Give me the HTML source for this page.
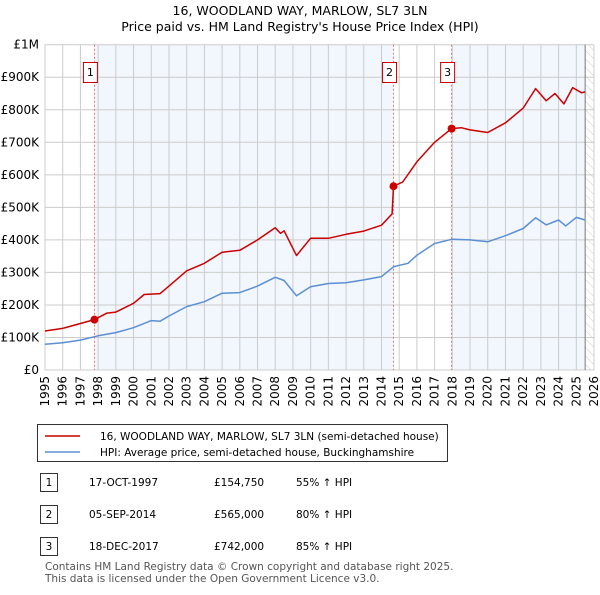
<!DOCTYPE html>
<html><head><meta charset="utf-8"><style>
body{margin:0;background:#fff;font-family:"Liberation Sans","DejaVu Sans",sans-serif;}
svg text{font-family:"DejaVu Sans","Liberation Sans",sans-serif;}
</style></head><body>
<svg id="c" width="600" height="590" xmlns="http://www.w3.org/2000/svg">
<defs><pattern id="hatch" width="6" height="6" patternUnits="userSpaceOnUse" patternTransform="rotate(-45)"><line x1="0" y1="0" x2="0" y2="6" stroke="#ccc" stroke-width="1"/></pattern></defs>
<text x="300" y="15" text-anchor="middle" font-size="12.5">16, WOODLAND WAY, MARLOW, SL7 3LN</text>
<text x="300" y="31" text-anchor="middle" font-size="12.5">Price paid vs. HM Land Registry's House Price Index (HPI)</text>
<g id="plot"></g>
<g>
<rect x="37.5" y="424.5" width="410" height="37" fill="#fff" stroke="#333"/>
<line x1="45" y1="436" x2="80" y2="436" stroke="#cc0000" stroke-width="1.5"/>
<text x="100" y="440" font-size="10.5">16, WOODLAND WAY, MARLOW, SL7 3LN (semi-detached house)</text>
<line x1="45" y1="452" x2="80" y2="452" stroke="#5b8fd4" stroke-width="1.5"/>
<text x="100" y="456" font-size="10.5">HPI: Average price, semi-detached house, Buckinghamshire</text>
</g>
<g id="tbl" font-size="10.5"></g>
<text x="45" y="570" font-size="10.5" fill="#555">Contains HM Land Registry data © Crown copyright and database right 2025.</text>
<text x="45" y="582" font-size="10.5" fill="#555">This data is licensed under the Open Government Licence v3.0.</text>
</svg>
<script>
const hpiYears=[1995,1996,1997,1998,1999,2000,2001,2001.5,2002,2003,2004,2005,2006,2007,2008,2008.5,2009.2,2010,2011,2012,2013,2014,2014.7,2015.5,2016,2017,2018,2019,2020,2021,2022,2022.7,2023.3,2024,2024.4,2025,2025.5];
const hpiValues=[79,84,92,105,115,130,152,150,166,195,210,236,238,258,285,275,228,256,266,268,277,287,318,328,353,389,402,400,394,413,435,468,446,461,443,469,461];
const priceYears=[1995,1996,1997,1997.79,1998.5,1999,2000,2000.6,2001.5,2002,2003,2004,2005,2006,2007,2008,2008.3,2008.5,2009.2,2010,2011,2012,2013,2014,2014.6,2014.68,2015.2,2016,2017,2017.96,2018.5,2019,2020,2021,2022,2022.7,2023.3,2023.8,2024.3,2024.8,2025.3,2025.5];
const priceValues=[120,128,143,155,175,178,205,232,235,258,305,328,362,368,400,437,420,428,352,405,405,417,427,445,480,565,578,640,700,742,745,738,730,760,805,865,828,850,818,868,852,855];
const saleYears=[1997.79,2014.68,2017.96];
const saleValues=[154.75,565,742];
const saleLabels=["1","2","3"];
const saleDates=["17-OCT-1997","05-SEP-2014","18-DEC-2017"];
const salePrices=["£154,750","£565,000","£742,000"];
const saleHpi=["55% ↑ HPI","80% ↑ HPI","85% ↑ HPI"];
const yTicks=[0,100,200,300,400,500,600,700,800,900,1000];
const yTickLabels=["£0","£100K","£200K","£300K","£400K","£500K","£600K","£700K","£800K","£900K","£1M"];
const xTicks=[1995,1996,1997,1998,1999,2000,2001,2002,2003,2004,2005,2006,2007,2008,2009,2010,2011,2012,2013,2014,2015,2016,2017,2018,2019,2020,2021,2022,2023,2024,2025,2026];

const X0=45,X1=594,Y0=370,Y1=44.7;
const x=y=>X0+(y-1995)/(2026-1995)*(X1-X0);
const yv=v=>Y0-v/1000*(Y0-Y1);
const NS="http://www.w3.org/2000/svg";
const g=document.getElementById('plot');
function mk(t,a,p){const e=document.createElementNS(NS,t);for(const k in a)e.setAttribute(k,a[k]);(p||g).appendChild(e);return e;}
let r=mk('rect',{x:x(saleYears[0]),y:Y1,width:x(saleYears[1])-x(saleYears[0]),height:Y0-Y1,fill:'#f2f6fd'});

r=mk('rect',{x:x(saleYears[2]),y:Y1,width:x(2025.5)-x(saleYears[2]),height:Y0-Y1,fill:'#f2f6fd'});

r=mk('rect',{x:x(2025.5),y:Y1,width:X1-x(2025.5),height:Y0-Y1,fill:'url(#hatch)'});

yTicks.forEach((t,i)=>{const l=mk('line',{x1:X0,x2:X1,y1:yv(t),y2:yv(t),stroke:'#ccc'});

const tx=mk('text',{x:X0-6,y:yv(t)+4,'text-anchor':'end','font-size':12});tx.textContent=yTickLabels[i];
});
xTicks.forEach(t=>{const l=mk('line',{x1:x(t),x2:x(t),y1:Y1,y2:Y0,stroke:'#ccc'});

const tx=mk('text',{x:0,y:0,'text-anchor':'end','font-size':12,transform:`translate(${x(t)+4},${Y0+6}) rotate(-90)`});tx.textContent=t;
});
l=mk('line',{x1:x(2025.5),x2:x(2025.5),y1:Y1,y2:Y0,stroke:'#777'});

saleYears.forEach((s,i)=>{const l=mk('line',{x1:x(s),x2:x(s),y1:Y1,y2:Y0,stroke:'#e55','stroke-dasharray':'2,2','stroke-width':0.8});

const b=mk('rect',{x:x(s)-11,y:62.5,width:14,height:20,fill:'#fff',stroke:'#cc0000'});

const t=mk('text',{x:x(s)-4,y:76,'text-anchor':'middle','font-size':11});t.textContent=saleLabels[i];
});
function path(xs,vs,c,n){const p=mk('path',{d:xs.map((a,i)=>(i?'L':'M')+x(a).toFixed(1)+','+yv(vs[i]).toFixed(1)).join(''),fill:'none',stroke:c,'stroke-width':1.5,'stroke-linejoin':'round'});
}
path(hpiYears,hpiValues,'#5b8fd4','hpi-line');
path(priceYears,priceValues,'#cc0000','price-line');
saleYears.forEach((s,i)=>{const c=mk('circle',{cx:x(s),cy:yv(saleValues[i]),r:4,fill:'#cc0000'});
});
const tb=document.getElementById('tbl');
saleLabels.forEach((lb,i)=>{const y0=473+i*32;
const b=mk('rect',{x:40.5,y:y0+0.5,width:17,height:18,fill:'#fff',stroke:'#333'},tb);

const cols=[[49,lb,'middle'],[89,saleDates[i],'start'],[214,salePrices[i],'start'],[296,saleHpi[i],'start']];
cols.forEach(c=>{const t=mk('text',{x:c[0],y:y0+13,'text-anchor':c[2]},tb);t.textContent=c[1];
});});
</script>
</body></html>
